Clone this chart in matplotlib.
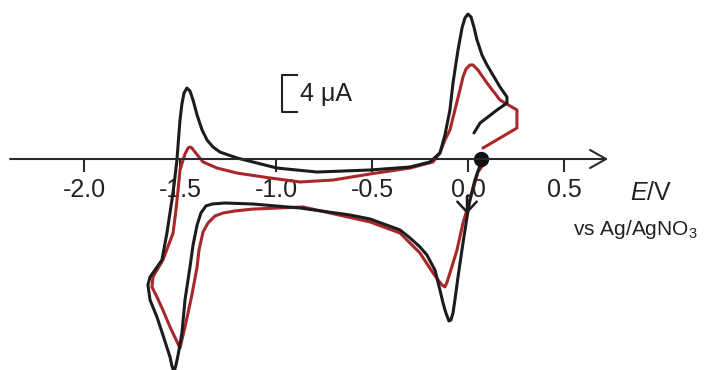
import matplotlib
matplotlib.use('Agg')
from matplotlib import pyplot as plt

plt.rcParams['font.family'] = ['Liberation Sans', 'DejaVu Sans']
plt.rcParams['axes.unicode_minus'] = False
plt.rcParams['mathtext.fontset'] = 'custom'
plt.rcParams['mathtext.rm'] = 'Liberation Sans'
plt.rcParams['mathtext.it'] = 'Liberation Sans:italic'

# 电位 E (V vs Ag/AgNO3)，电流 I (uA)
black_E = [0.063, 0.036, 0.010, -0.005, -0.026, -0.052, -0.068, -0.078, -0.089,
           -0.099, -0.115, -0.130, -0.146, -0.172, -0.214, -0.250, -0.302, -0.354,
           -0.510, -0.615, -0.875, -1.120, -1.266, -1.333, -1.365, -1.391, -1.411,
           -1.432, -1.448, -1.474, -1.490, -1.510, -1.521, -1.531, -1.542, -1.552,
           -1.589, -1.620, -1.656, -1.667, -1.656, -1.594, -1.568, -1.542, -1.531,
           -1.516, -1.500, -1.490, -1.479, -1.464, -1.448, -1.432, -1.411, -1.385,
           -1.359, -1.328, -1.292, -1.203, -1.099, -0.995, -0.786, -0.510, -0.302,
           -0.198, -0.146, -0.120, -0.094, -0.078, -0.052, -0.031, -0.016, 0.000,
           0.016, 0.031, 0.047, 0.073, 0.099, 0.167, 0.203, 0.203, 0.151,
           0.063, 0.031]
black_I = [-0.65, -2.26, -4.41, -6.24, -9.03, -12.69, -15.16, -16.56, -17.31,
           -17.42, -16.56, -15.48, -14.09, -11.94, -10.32, -9.46, -8.49, -7.63,
           -6.45, -6.02, -5.27, -4.84, -4.73, -4.84, -5.05, -5.81, -7.10,
           -9.25, -11.61, -15.16, -18.71, -21.08, -22.15, -22.90, -22.26, -21.29,
           -18.92, -16.99, -15.16, -13.55, -12.69, -10.86, -7.96, -4.41, -2.80,
           -0.11, 4.19, 5.91, 7.10, 7.63, 7.31, 6.34, 4.73, 3.12,
           2.04, 1.29, 0.75, 0.11, -0.43, -0.97, -1.40, -1.18, -0.86,
           -0.32, 0.65, 2.58, 5.27, 8.17, 11.72, 14.09, 15.16, 15.59,
           15.27, 14.19, 12.80, 11.18, 10.11, 7.74, 6.67, 6.02, 5.27,
           3.87, 2.80]

red_E = [0.078, 0.052, 0.010, -0.026, -0.057, -0.094, -0.109, -0.120, -0.135,
         -0.156, -0.182, -0.250, -0.354, -0.510, -0.859, -1.120, -1.214, -1.276,
         -1.318, -1.354, -1.380, -1.401, -1.411, -1.438, -1.474, -1.490, -1.500,
         -1.505, -1.552, -1.589, -1.620, -1.646, -1.641, -1.589, -1.536, -1.521,
         -1.510, -1.500, -1.484, -1.474, -1.458, -1.448, -1.438, -1.422, -1.380,
         -1.307, -1.203, -1.031, -0.875, -0.703, -0.510, -0.302, -0.182, -0.146,
         -0.120, -0.094, -0.068, -0.042, -0.026, -0.010, 0.010, 0.026, 0.052,
         0.099, 0.167, 0.255, 0.255, 0.078]
red_I = [-0.65, -1.40, -4.41, -6.88, -9.78, -12.26, -13.23, -13.76, -13.55,
         -13.01, -12.26, -10.11, -7.96, -6.77, -5.16, -5.38, -5.59, -5.81,
         -6.13, -6.88, -7.85, -9.78, -11.61, -14.62, -18.06, -19.46, -20.32,
         -20.11, -18.06, -16.24, -14.84, -13.76, -12.69, -10.86, -7.96, -5.48,
         -3.33, -1.18, -0.11, 0.54, 1.18, 1.29, 1.18, 0.75, -0.32,
         -0.97, -1.51, -2.04, -2.47, -2.26, -1.61, -0.97, -0.32, 0.65,
         2.04, 3.12, 5.27, 7.42, 8.82, 9.68, 10.11, 10.11, 9.57,
         8.17, 6.34, 5.27, 3.33, 1.18]

tick_vals = [-2.0, -1.5, -1.0, -0.5, 0.0, 0.5]
tick_labels = ['-2.0', '-1.5', '-1.0', '-0.5', '0.0', '0.5']
start_E = 0.068      # 起始电位（黑点）
scale_uA = 4

fig = plt.figure(figsize=(7.12, 3.70), dpi=100)
ax = fig.add_axes([0, 0, 1, 1])
ax.set_xlim(-2.4375, 1.271)
ax.set_ylim(-22.69, 17.10)

ax.plot(red_E, red_I, color='#a8282a', lw=2.2, solid_joinstyle='round',
        solid_capstyle='round')
ax.plot(black_E, black_I, color='#1c1c1c', lw=2.2, solid_joinstyle='round',
        solid_capstyle='round')

# 横轴 + 箭头
for s in ax.spines.values():
    s.set_visible(False)
ax.spines['bottom'].set_position(('data', 0))
ax.annotate('', xy=(0.73, 0), xytext=(-2.385, 0),
            arrowprops=dict(arrowstyle='->,head_length=1.15,head_width=0.65',
                            lw=1.5, color='#2a2a2a', shrinkA=0, shrinkB=0))
ax.set_xticks(tick_vals)
ax.set_xticklabels(tick_labels)
ax.tick_params(axis='x', direction='out', length=9.5, width=1.5, color='#2a2a2a',
               labelsize=18, pad=4, labelcolor='#222222')
ax.set_yticks([])

# 起始点和扫描方向
ax.plot([start_E], [0], 'o', color='#111111', ms=10)
ax.annotate('', xy=(-0.005, -5.9), xytext=(-0.005, -4.0),
            arrowprops=dict(arrowstyle='->,head_length=0.75,head_width=0.7',
                            lw=1.8, color='#1c1c1c', shrinkA=0, shrinkB=0))

# 标尺 4 uA
ax.plot([-0.891, -0.969, -0.969, -0.891], [9.03, 9.03, 9.03 - scale_uA, 9.03 - scale_uA],
        color='#222222', lw=1.5)
ax.text(-0.875, 9.03 - scale_uA / 2, '4 μA', fontsize=18, ha='left', va='center',
        color='#222222')

ax.text(0.844, -3.66, '$E$/V', fontsize=18, ha='left', va='center', color='#222222')
ax.text(0.547, -7.53, 'vs Ag/AgNO$_3$', fontsize=15, ha='left', va='center',
        color='#222222')

plt.savefig('out.png', dpi=100)
